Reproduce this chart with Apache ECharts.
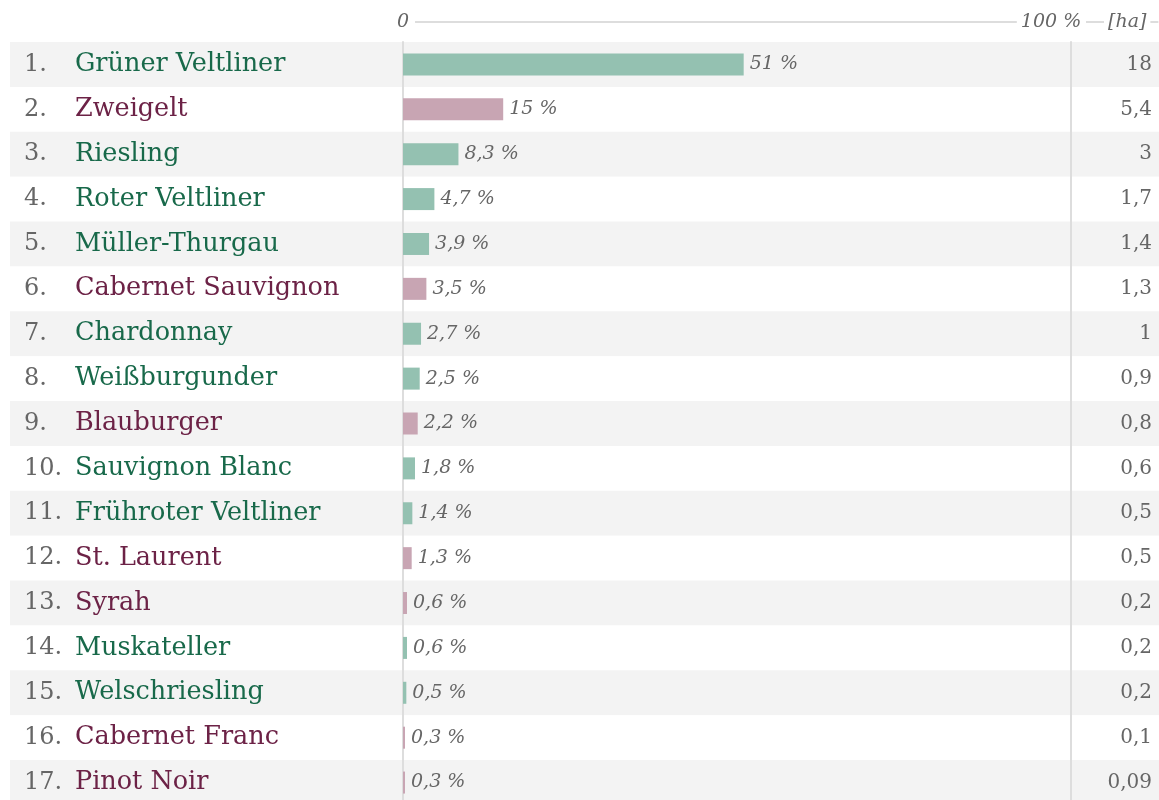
<!DOCTYPE html>
<html lang="de">
<head>
    <meta charset="UTF-8">
    <title>Rebsorten</title>
    <script src="https://cdn.jsdelivr.net/npm/echarts@6/dist/echarts.min.js"></script>
    <style>
        html, body { margin: 0; padding: 0; background: #fff; }
    </style>
</head>
<body>
<div id="main" style="width: 1159px;height:800px;"></div>
<script type="text/javascript">
    // Rebsorten, Anteil an der Fläche (%) und Fläche (ha)
    var sorten = ["Grüner Veltliner", "Zweigelt", "Riesling", "Roter Veltliner", "Müller-Thurgau",
        "Cabernet Sauvignon", "Chardonnay", "Weißburgunder", "Blauburger", "Sauvignon Blanc",
        "Frühroter Veltliner", "St. Laurent", "Syrah", "Muskateller", "Welschriesling",
        "Cabernet Franc", "Pinot Noir"];
    // w = weiß, r = rot
    var farbe = ["w", "r", "w", "w", "w", "r", "w", "w", "r", "w", "w", "r", "r", "w", "w", "r", "r"];
    var anteil = [51, 15, 8.3, 4.7, 3.9, 3.5, 2.7, 2.5, 2.2, 1.8, 1.4, 1.3, 0.6, 0.6, 0.5, 0.3, 0.3];
    var hektar = ["18", "5,4", "3", "1,7", "1,4", "1,3", "1", "0,9", "0,8", "0,6", "0,5", "0,5", "0,2", "0,2", "0,2", "0,1", "0,09"];

    var barFarbe = {w: "#94c1b1", r: "#c8a5b3"};
    var textFarbe = {w: "#18694a", r: "#6c2246"};
    var serif = "'DejaVu Serif', serif";
    var grau = "#666666";
    var linie = "#dddddd";

    var myChart = echarts.init(document.getElementById("main"));

    var option = {
        animation: false,
        grid: [
            {left: 403, right: 88, top: 42, height: 763, outerBoundsMode: "none"},
            {left: 10, right: 0, top: 42, height: 763, outerBoundsMode: "none"}
        ],
        xAxis: [
            {
                type: "value",
                gridIndex: 0,
                position: "top",
                offset: 20,
                min: 0,
                max: 100,
                interval: 100,
                axisLine: {show: true, lineStyle: {color: linie, width: 2}},
                axisTick: {show: false},
                splitLine: {show: false},
                axisLabel: {
                    margin: 0,
                    verticalAlign: "middle",
                    formatter: function (v) {
                        if (v === 0) return "{z|0}";
                        return "{p|100 %}{s|}";
                    },
                    rich: {
                        z: {fontFamily: serif, fontStyle: "italic", fontSize: 19, color: grau, backgroundColor: "#fff", padding: [0, 6]},
                        p: {fontFamily: serif, fontStyle: "italic", fontSize: 19, color: grau, backgroundColor: "#fff", padding: [0, 4]},
                        s: {width: 40}
                    }
                },
                name: "{d|}{h|[ha]}{e|}",
                nameLocation: "end",
                nameGap: 15,
                nameMoveOverlap: false,
                nameTextStyle: {
                    verticalAlign: "middle",
                    rich: {
                        d: {width: 18, height: 2, backgroundColor: linie, verticalAlign: "middle"},
                        h: {fontFamily: serif, fontStyle: "italic", fontSize: 19, color: grau, padding: [0, 4], verticalAlign: "middle"},
                        e: {width: 8, height: 2, backgroundColor: linie, verticalAlign: "middle"}
                    }
                }
            },
            {type: "value", gridIndex: 1, show: false}
        ],
        yAxis: [
            {
                type: "category",
                gridIndex: 0,
                inverse: true,
                data: sorten,
                axisLine: {show: true, lineStyle: {color: linie, width: 2}},
                axisTick: {show: false},
                axisLabel: {
                    align: "left",
                    margin: 379,
                    formatter: function (v, i) {
                        return "{n|" + (i + 1) + ".}{" + farbe[i] + "|" + v + "}";
                    },
                    rich: {
                        n: {width: 51, align: "left", fontFamily: serif, fontSize: 24, color: grau},
                        w: {fontFamily: serif, fontSize: 25.5, color: textFarbe.w},
                        r: {fontFamily: serif, fontSize: 25.5, color: textFarbe.r}
                    }
                }
            },
            {
                type: "category",
                gridIndex: 0,
                position: "right",
                inverse: true,
                data: sorten,
                axisLine: {show: true, lineStyle: {color: linie, width: 2}},
                axisTick: {show: false},
                axisLabel: {
                    align: "right",
                    margin: 81,
                    fontFamily: serif,
                    fontSize: 20,
                    color: grau,
                    formatter: function (v, i) {
                        return hektar[i];
                    }
                }
            },
            {
                type: "category",
                gridIndex: 1,
                inverse: true,
                data: sorten,
                axisLine: {show: false},
                axisTick: {show: false},
                axisLabel: {show: false},
                splitArea: {show: true, areaStyle: {color: ["#f3f3f3", "#ffffff"]}}
            }
        ],
        series: [
            {
                type: "bar",
                xAxisIndex: 0,
                yAxisIndex: 0,
                barWidth: 22,
                data: anteil.map(function (v, i) {
                    return {value: v, itemStyle: {color: barFarbe[farbe[i]]}};
                }),
                label: {
                    show: true,
                    position: "right",
                    distance: 6,
                    fontFamily: serif,
                    fontStyle: "italic",
                    fontSize: 19,
                    color: grau,
                    formatter: function (p) {
                        return String(p.value).replace(".", ",") + " %";
                    }
                }
            }
        ]
    };

    myChart.setOption(option);
</script>
</body>
</html>
